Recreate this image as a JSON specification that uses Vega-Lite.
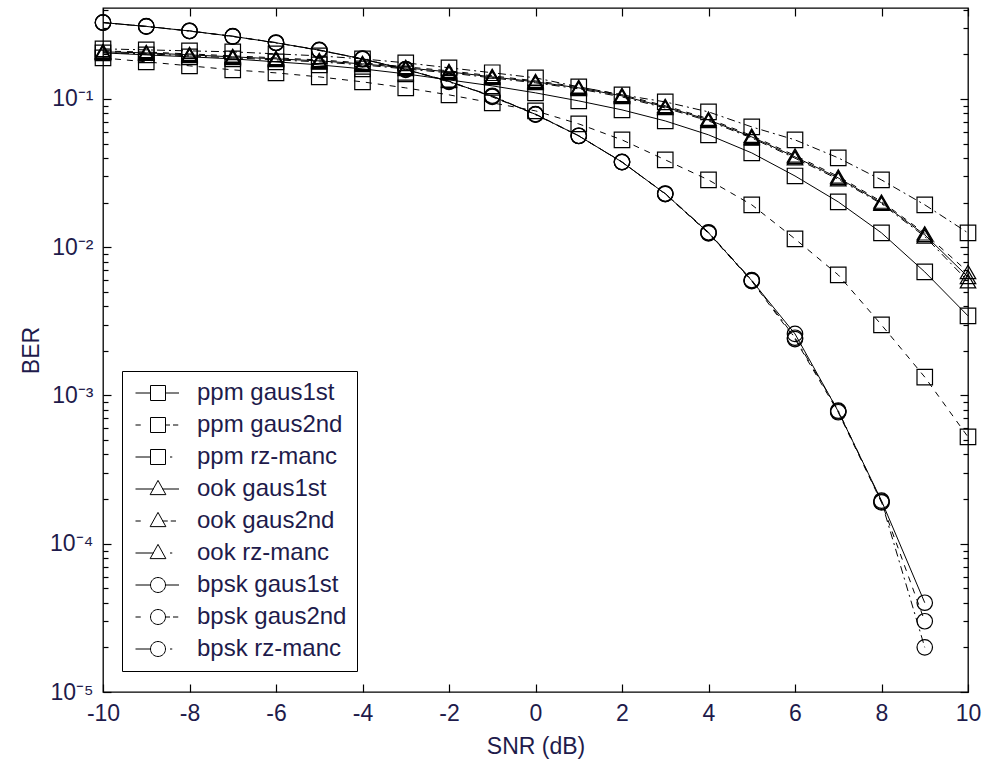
{
  "$schema": "https://vega.github.io/schema/vega-lite/v6.json",
  "width": 865,
  "height": 684,
  "autosize": {"type": "none"},
  "padding": {"left": 103, "top": 8, "right": 19, "bottom": 78},
  "background": "white",
  "data": {"values": [
    {"series":"ppm gaus1st","snr":-10,"ber":0.2043},{"series":"ppm gaus1st","snr":-9,"ber":0.198},{"series":"ppm gaus1st","snr":-8,"ber":0.192},{"series":"ppm gaus1st","snr":-7,"ber":0.1861},{"series":"ppm gaus1st","snr":-6,"ber":0.1777},{"series":"ppm gaus1st","snr":-5,"ber":0.1696},{"series":"ppm gaus1st","snr":-4,"ber":0.1593},{"series":"ppm gaus1st","snr":-3,"ber":0.1474},{"series":"ppm gaus1st","snr":-2,"ber":0.1343},{"series":"ppm gaus1st","snr":-1,"ber":0.1224},{"series":"ppm gaus1st","snr":0,"ber":0.1098},{"series":"ppm gaus1st","snr":1,"ber":0.0969},{"series":"ppm gaus1st","snr":2,"ber":0.0843},{"series":"ppm gaus1st","snr":3,"ber":0.071},{"series":"ppm gaus1st","snr":4,"ber":0.0572},{"series":"ppm gaus1st","snr":5,"ber":0.0432},{"series":"ppm gaus1st","snr":6,"ber":0.0302},{"series":"ppm gaus1st","snr":7,"ber":0.0202},{"series":"ppm gaus1st","snr":8,"ber":0.01248},{"series":"ppm gaus1st","snr":9,"ber":0.00681},{"series":"ppm gaus1st","snr":10,"ber":0.00344},
    {"series":"ppm gaus2nd","snr":-10,"ber":0.1889},{"series":"ppm gaus2nd","snr":-9,"ber":0.1777},{"series":"ppm gaus2nd","snr":-8,"ber":0.167},{"series":"ppm gaus2nd","snr":-7,"ber":0.1569},{"series":"ppm gaus2nd","snr":-6,"ber":0.1497},{"series":"ppm gaus2nd","snr":-5,"ber":0.1407},{"series":"ppm gaus2nd","snr":-4,"ber":0.1302},{"series":"ppm gaus2nd","snr":-3,"ber":0.1186},{"series":"ppm gaus2nd","snr":-2,"ber":0.1064},{"series":"ppm gaus2nd","snr":-1,"ber":0.094},{"series":"ppm gaus2nd","snr":0,"ber":0.083},{"series":"ppm gaus2nd","snr":1,"ber":0.0678},{"series":"ppm gaus2nd","snr":2,"ber":0.0529},{"series":"ppm gaus2nd","snr":3,"ber":0.0388},{"series":"ppm gaus2nd","snr":4,"ber":0.0284},{"series":"ppm gaus2nd","snr":5,"ber":0.0193},{"series":"ppm gaus2nd","snr":6,"ber":0.01137},{"series":"ppm gaus2nd","snr":7,"ber":0.0065},{"series":"ppm gaus2nd","snr":8,"ber":0.00299},{"series":"ppm gaus2nd","snr":9,"ber":0.00133},{"series":"ppm gaus2nd","snr":10,"ber":0.000525},
    {"series":"ppm rz-manc","snr":-10,"ber":0.2175},{"series":"ppm rz-manc","snr":-9,"ber":0.214},{"series":"ppm rz-manc","snr":-8,"ber":0.2107},{"series":"ppm rz-manc","snr":-7,"ber":0.2075},{"series":"ppm rz-manc","snr":-6,"ber":0.2011},{"series":"ppm rz-manc","snr":-5,"ber":0.195},{"series":"ppm rz-manc","snr":-4,"ber":0.186},{"series":"ppm rz-manc","snr":-3,"ber":0.175},{"series":"ppm rz-manc","snr":-2,"ber":0.162},{"series":"ppm rz-manc","snr":-1,"ber":0.15},{"series":"ppm rz-manc","snr":0,"ber":0.1386},{"series":"ppm rz-manc","snr":1,"ber":0.1205},{"series":"ppm rz-manc","snr":2,"ber":0.1064},{"series":"ppm rz-manc","snr":3,"ber":0.0954},{"series":"ppm rz-manc","snr":4,"ber":0.0817},{"series":"ppm rz-manc","snr":5,"ber":0.0647},{"series":"ppm rz-manc","snr":6,"ber":0.0529},{"series":"ppm rz-manc","snr":7,"ber":0.04},{"series":"ppm rz-manc","snr":8,"ber":0.0284},{"series":"ppm rz-manc","snr":9,"ber":0.0193},{"series":"ppm rz-manc","snr":10,"ber":0.01248},
    {"series":"ook gaus1st","snr":-10,"ber":0.2075},{"series":"ook gaus1st","snr":-9,"ber":0.2043},{"series":"ook gaus1st","snr":-8,"ber":0.198},{"series":"ook gaus1st","snr":-7,"ber":0.192},{"series":"ook gaus1st","snr":-6,"ber":0.1861},{"series":"ook gaus1st","snr":-5,"ber":0.1804},{"series":"ook gaus1st","snr":-4,"ber":0.1722},{"series":"ook gaus1st","snr":-3,"ber":0.1618},{"series":"ook gaus1st","snr":-2,"ber":0.1521},{"series":"ook gaus1st","snr":-1,"ber":0.1407},{"series":"ook gaus1st","snr":0,"ber":0.1302},{"series":"ook gaus1st","snr":1,"ber":0.1186},{"series":"ook gaus1st","snr":2,"ber":0.1048},{"series":"ook gaus1st","snr":3,"ber":0.0883},{"series":"ook gaus1st","snr":4,"ber":0.0722},{"series":"ook gaus1st","snr":5,"ber":0.0554},{"series":"ook gaus1st","snr":6,"ber":0.0406},{"series":"ook gaus1st","snr":7,"ber":0.0293},{"series":"ook gaus1st","snr":8,"ber":0.0199},{"series":"ook gaus1st","snr":9,"ber":0.0121},{"series":"ook gaus1st","snr":10,"ber":0.0063},
    {"series":"ook gaus2nd","snr":-10,"ber":0.21},{"series":"ook gaus2nd","snr":-9,"ber":0.207},{"series":"ook gaus2nd","snr":-8,"ber":0.201},{"series":"ook gaus2nd","snr":-7,"ber":0.195},{"series":"ook gaus2nd","snr":-6,"ber":0.189},{"series":"ook gaus2nd","snr":-5,"ber":0.183},{"series":"ook gaus2nd","snr":-4,"ber":0.175},{"series":"ook gaus2nd","snr":-3,"ber":0.1645},{"series":"ook gaus2nd","snr":-2,"ber":0.1545},{"series":"ook gaus2nd","snr":-1,"ber":0.143},{"series":"ook gaus2nd","snr":0,"ber":0.1322},{"series":"ook gaus2nd","snr":1,"ber":0.1205},{"series":"ook gaus2nd","snr":2,"ber":0.1065},{"series":"ook gaus2nd","snr":3,"ber":0.0898},{"series":"ook gaus2nd","snr":4,"ber":0.0735},{"series":"ook gaus2nd","snr":5,"ber":0.0565},{"series":"ook gaus2nd","snr":6,"ber":0.0415},{"series":"ook gaus2nd","snr":7,"ber":0.03},{"series":"ook gaus2nd","snr":8,"ber":0.0203},{"series":"ook gaus2nd","snr":9,"ber":0.0124},{"series":"ook gaus2nd","snr":10,"ber":0.0068},
    {"series":"ook rz-manc","snr":-10,"ber":0.2045},{"series":"ook rz-manc","snr":-9,"ber":0.2015},{"series":"ook rz-manc","snr":-8,"ber":0.195},{"series":"ook rz-manc","snr":-7,"ber":0.189},{"series":"ook rz-manc","snr":-6,"ber":0.1832},{"series":"ook rz-manc","snr":-5,"ber":0.1776},{"series":"ook rz-manc","snr":-4,"ber":0.1695},{"series":"ook rz-manc","snr":-3,"ber":0.1592},{"series":"ook rz-manc","snr":-2,"ber":0.1497},{"series":"ook rz-manc","snr":-1,"ber":0.1385},{"series":"ook rz-manc","snr":0,"ber":0.1282},{"series":"ook rz-manc","snr":1,"ber":0.1168},{"series":"ook rz-manc","snr":2,"ber":0.103},{"series":"ook rz-manc","snr":3,"ber":0.0868},{"series":"ook rz-manc","snr":4,"ber":0.071},{"series":"ook rz-manc","snr":5,"ber":0.0545},{"series":"ook rz-manc","snr":6,"ber":0.0398},{"series":"ook rz-manc","snr":7,"ber":0.0287},{"series":"ook rz-manc","snr":8,"ber":0.0196},{"series":"ook rz-manc","snr":9,"ber":0.0118},{"series":"ook rz-manc","snr":10,"ber":0.0059},
    {"series":"bpsk gaus1st","snr":-10,"ber":0.327},{"series":"bpsk gaus1st","snr":-9,"ber":0.308},{"series":"bpsk gaus1st","snr":-8,"ber":0.287},{"series":"bpsk gaus1st","snr":-7,"ber":0.264},{"series":"bpsk gaus1st","snr":-6,"ber":0.239},{"series":"bpsk gaus1st","snr":-5,"ber":0.213},{"series":"bpsk gaus1st","snr":-4,"ber":0.186},{"series":"bpsk gaus1st","snr":-3,"ber":0.158},{"series":"bpsk gaus1st","snr":-2,"ber":0.131},{"series":"bpsk gaus1st","snr":-1,"ber":0.104},{"series":"bpsk gaus1st","snr":0,"ber":0.0786},{"series":"bpsk gaus1st","snr":1,"ber":0.0563},{"series":"bpsk gaus1st","snr":2,"ber":0.0375},{"series":"bpsk gaus1st","snr":3,"ber":0.0229},{"series":"bpsk gaus1st","snr":4,"ber":0.0125},{"series":"bpsk gaus1st","snr":5,"ber":0.00595},{"series":"bpsk gaus1st","snr":6,"ber":0.0026},{"series":"bpsk gaus1st","snr":7,"ber":0.00078},{"series":"bpsk gaus1st","snr":8,"ber":0.000195},{"series":"bpsk gaus1st","snr":9,"ber":0.00004},
    {"series":"bpsk gaus2nd","snr":-10,"ber":0.328},{"series":"bpsk gaus2nd","snr":-9,"ber":0.307},{"series":"bpsk gaus2nd","snr":-8,"ber":0.288},{"series":"bpsk gaus2nd","snr":-7,"ber":0.263},{"series":"bpsk gaus2nd","snr":-6,"ber":0.24},{"series":"bpsk gaus2nd","snr":-5,"ber":0.212},{"series":"bpsk gaus2nd","snr":-4,"ber":0.187},{"series":"bpsk gaus2nd","snr":-3,"ber":0.157},{"series":"bpsk gaus2nd","snr":-2,"ber":0.132},{"series":"bpsk gaus2nd","snr":-1,"ber":0.103},{"series":"bpsk gaus2nd","snr":0,"ber":0.079},{"series":"bpsk gaus2nd","snr":1,"ber":0.0562},{"series":"bpsk gaus2nd","snr":2,"ber":0.0376},{"series":"bpsk gaus2nd","snr":3,"ber":0.0228},{"series":"bpsk gaus2nd","snr":4,"ber":0.0124},{"series":"bpsk gaus2nd","snr":5,"ber":0.0059},{"series":"bpsk gaus2nd","snr":6,"ber":0.0024},{"series":"bpsk gaus2nd","snr":7,"ber":0.00077},{"series":"bpsk gaus2nd","snr":8,"ber":0.00019},{"series":"bpsk gaus2nd","snr":9,"ber":0.00003},
    {"series":"bpsk rz-manc","snr":-10,"ber":0.326},{"series":"bpsk rz-manc","snr":-9,"ber":0.309},{"series":"bpsk rz-manc","snr":-8,"ber":0.286},{"series":"bpsk rz-manc","snr":-7,"ber":0.265},{"series":"bpsk rz-manc","snr":-6,"ber":0.238},{"series":"bpsk rz-manc","snr":-5,"ber":0.214},{"series":"bpsk rz-manc","snr":-4,"ber":0.185},{"series":"bpsk rz-manc","snr":-3,"ber":0.159},{"series":"bpsk rz-manc","snr":-2,"ber":0.13},{"series":"bpsk rz-manc","snr":-1,"ber":0.105},{"series":"bpsk rz-manc","snr":0,"ber":0.0782},{"series":"bpsk rz-manc","snr":1,"ber":0.0564},{"series":"bpsk rz-manc","snr":2,"ber":0.0374},{"series":"bpsk rz-manc","snr":3,"ber":0.023},{"series":"bpsk rz-manc","snr":4,"ber":0.0126},{"series":"bpsk rz-manc","snr":5,"ber":0.006},{"series":"bpsk rz-manc","snr":6,"ber":0.00245},{"series":"bpsk rz-manc","snr":7,"ber":0.00079},{"series":"bpsk rz-manc","snr":8,"ber":0.000192},{"series":"bpsk rz-manc","snr":9,"ber":0.00002}
  ]},
  "layer": [
    {
      "transform": [{"filter": "indexof(datum.series, 'gaus1st') >= 0"}],
      "mark": {"type": "line", "strokeWidth": 1, "color": "black"},
      "encoding": {
        "x": {"field": "snr", "type": "quantitative",
          "scale": {"domain": [-10, 10], "nice": false, "zero": false},
          "axis": {"orient": "bottom", "values": [-10,-8,-6,-4,-2,0,2,4,6,8,10], "tickSize": -8, "labelPadding": 18, "labelFlush": false, "labelOverlap": false,
            "labelExpr": "(datum.value < 0 ? '-' : '') + abs(datum.value)",
            "title": "SNR (dB)", "titlePadding": 10}},
        "y": {"field": "ber", "type": "quantitative",
          "scale": {"type": "log", "domain": [0.00001, 0.41], "nice": false},
          "axis": {"orient": "left", "values": [0.00001,0.0001,0.001,0.01,0.1], "tickSize": -8, "labelPadding": 18, "labelOverlap": false, "labelFlush": false,
            "labelExpr": "datum.value < 0.00005 ? '10⁻⁵' : datum.value < 0.0005 ? '10⁻⁴' : datum.value < 0.005 ? '10⁻³' : datum.value < 0.05 ? '10⁻²' : '10⁻¹'",
            "title": "BER", "titlePadding": 6}},
        "detail": {"field": "series", "type": "nominal"}
      }
    },
    {
      "transform": [{"filter": "indexof(datum.series, 'gaus2nd') >= 0"}],
      "mark": {"type": "line", "strokeWidth": 1, "color": "black", "strokeDash": [6, 6]},
      "encoding": {
        "x": {"field": "snr", "type": "quantitative", "scale": {"domain": [-10, 10], "nice": false, "zero": false}, "axis": null},
        "y": {"field": "ber", "type": "quantitative", "scale": {"type": "log", "domain": [0.00001, 0.41], "nice": false}, "axis": null},
        "detail": {"field": "series", "type": "nominal"}
      }
    },
    {
      "transform": [{"filter": "indexof(datum.series, 'rz-manc') >= 0"}],
      "mark": {"type": "line", "strokeWidth": 1, "color": "black", "strokeDash": [8, 4, 2, 4]},
      "encoding": {
        "x": {"field": "snr", "type": "quantitative", "scale": {"domain": [-10, 10], "nice": false, "zero": false}, "axis": null},
        "y": {"field": "ber", "type": "quantitative", "scale": {"type": "log", "domain": [0.00001, 0.41], "nice": false}, "axis": null},
        "detail": {"field": "series", "type": "nominal"}
      }
    },
    {
      "transform": [{"filter": "indexof(datum.series, 'ppm') == 0"}],
      "mark": {"type": "point", "shape": "square", "filled": false, "size": 240, "strokeWidth": 1.2, "color": "black", "opacity": 1},
      "encoding": {
        "x": {"field": "snr", "type": "quantitative",
          "scale": {"domain": [-10, 10], "nice": false, "zero": false},
          "axis": {"orient": "top", "values": [-10,-8,-6,-4,-2,0,2,4,6,8,10], "tickSize": -8, "labels": false, "title": null}},
        "y": {"field": "ber", "type": "quantitative",
          "scale": {"type": "log", "domain": [0.00001, 0.41], "nice": false},
          "axis": {"orient": "right", "values": [0.00001,0.0001,0.001,0.01,0.1], "tickSize": -8, "labels": false, "title": null}}
      }
    },
    {
      "transform": [{"filter": "indexof(datum.series, 'ook') == 0"}],
      "mark": {"type": "point", "shape": "triangle-up", "filled": false, "size": 240, "strokeWidth": 1.2, "color": "black", "opacity": 1},
      "encoding": {
        "x": {"field": "snr", "type": "quantitative", "scale": {"domain": [-10, 10], "nice": false, "zero": false}, "axis": null},
        "y": {"field": "ber", "type": "quantitative", "scale": {"type": "log", "domain": [0.00001, 0.41], "nice": false}, "axis": null}
      }
    },
    {
      "transform": [{"filter": "indexof(datum.series, 'bpsk') == 0"}],
      "mark": {"type": "point", "shape": "circle", "filled": false, "size": 240, "strokeWidth": 1.2, "color": "black", "opacity": 1},
      "encoding": {
        "x": {"field": "snr", "type": "quantitative", "scale": {"domain": [-10, 10], "nice": false, "zero": false}, "axis": null},
        "y": {"field": "ber", "type": "quantitative", "scale": {"type": "log", "domain": [0.00001, 0.41], "nice": false}, "axis": null}
      }
    },
    {
      "transform": [{"filter": "datum.snr > 100"}],
      "mark": {"type": "point", "filled": false, "color": "black", "opacity": 1, "strokeWidth": 1},
      "encoding": {
        "x": {"field": "snr", "type": "quantitative", "scale": {"domain": [-10, 10], "nice": false, "zero": false}, "axis": null},
        "y": {"field": "ber", "type": "quantitative", "scale": {"type": "log", "domain": [0.00001, 0.41], "nice": false}, "axis": null},
        "shape": {"field": "series", "type": "nominal",
          "scale": {"domain": ["ppm gaus1st","ppm gaus2nd","ppm rz-manc","ook gaus1st","ook gaus2nd","ook rz-manc","bpsk gaus1st","bpsk gaus2nd","bpsk rz-manc"],
            "range": [
              "M-3,0H-1M1,0H2.8M-1,-1H1V1H-1Z",
              "M-3,0H-2.3M1,0H1.6M2,0H2.7M-1,-1H1V1H-1Z",
              "M-3,0H-1M1.6,0H1.9M-1,-1H1V1H-1Z",
              "M-3,0H-0.6M0.6,0H2.8M0,-1.15L1.05,0.75H-1.05Z",
              "M-3,0H-2.3M0.6,0H1.3M1.7,0H2.4M0,-1.15L1.05,0.75H-1.05Z",
              "M-3,0H-0.6M1.6,0H1.9M0,-1.15L1.05,0.75H-1.05Z",
              "M-3,0H-1M1,0H2.8M-1,0A1,1,0,1,0,1,0A1,1,0,1,0,-1,0Z",
              "M-3,0H-2.3M1,0H1.6M2,0H2.7M-1,0A1,1,0,1,0,1,0A1,1,0,1,0,-1,0Z",
              "M-3,0H-1M1.6,0H1.9M-1,0A1,1,0,1,0,1,0A1,1,0,1,0,-1,0Z"]},
          "legend": {"orient": "none", "legendX": 19, "legendY": 363, "title": null, "strokeColor": "black", "fillColor": "white",
            "padding": 10, "rowPadding": 8, "symbolSize": 225, "symbolStrokeWidth": 1, "symbolStrokeColor": "black", "symbolFillColor": "transparent", "symbolOpacity": 1,
            "symbolOffset": 14, "labelOffset": 27, "labelFontSize": 24, "labelFont": "Liberation Sans", "labelColor": "#1e1b4b", "labelLimit": 400,
            "cornerRadius": 0}
        }
      }
    },
    {
      "mark": {"type": "point", "opacity": 0},
      "encoding": {
        "x": {"field": "snr", "type": "quantitative", "scale": {"domain": [-10, 10], "nice": false, "zero": false}, "axis": null},
        "y": {"field": "ber", "type": "quantitative",
          "scale": {"type": "log", "domain": [0.00001, 0.41], "nice": false},
          "axis": {"orient": "left", "values": [0.00002,0.00003,0.00004,0.00005,0.00006,0.00007,0.00008,0.00009,0.0002,0.0003,0.0004,0.0005,0.0006,0.0007,0.0008,0.0009,0.002,0.003,0.004,0.005,0.006,0.007,0.008,0.009,0.02,0.03,0.04,0.05,0.06,0.07,0.08,0.09,0.2,0.3,0.4], "tickSize": -5, "labels": false, "title": null}}
      }
    },
    {
      "mark": {"type": "point", "opacity": 0},
      "encoding": {
        "x": {"field": "snr", "type": "quantitative", "scale": {"domain": [-10, 10], "nice": false, "zero": false}, "axis": null},
        "y": {"field": "ber", "type": "quantitative",
          "scale": {"type": "log", "domain": [0.00001, 0.41], "nice": false},
          "axis": {"orient": "right", "values": [0.00002,0.00003,0.00004,0.00005,0.00006,0.00007,0.00008,0.00009,0.0002,0.0003,0.0004,0.0005,0.0006,0.0007,0.0008,0.0009,0.002,0.003,0.004,0.005,0.006,0.007,0.008,0.009,0.02,0.03,0.04,0.05,0.06,0.07,0.08,0.09,0.2,0.3,0.4], "tickSize": -5, "labels": false, "title": null}}
      }
    }
  ],
  "resolve": {"scale": {"x": "independent", "y": "independent"}},
  "config": {
    "view": {"stroke": "black", "strokeWidth": 1.3},
    "font": "Liberation Sans",
    "axis": {"grid": false, "domain": false, "tickColor": "black", "tickWidth": 1.2,
      "labelFont": "Liberation Sans", "labelFontSize": 23, "labelColor": "#1e1b4b",
      "titleFont": "Liberation Sans", "titleFontSize": 23, "titleFontWeight": "normal", "titleColor": "#1e1b4b"}
  }
}
